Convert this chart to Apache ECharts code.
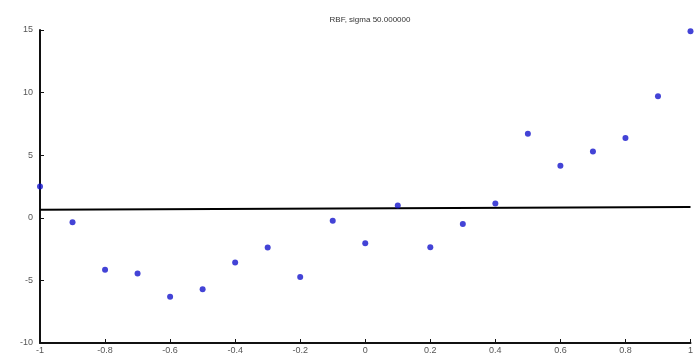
<!DOCTYPE html>
<html>
<head>
<meta charset="utf-8">
<script src="https://cdn.jsdelivr.net/npm/echarts@6/dist/echarts.min.js"></script>
<style>
  html, body { margin: 0; padding: 0; background: #fff; }
  #chart { width: 696px; height: 355px; }
</style>
</head>
<body>
<div id="chart"></div>
<script>
// sample positions and values
const xs = [-1, -0.9, -0.8, -0.7, -0.6, -0.5, -0.4, -0.3, -0.2, -0.1, 0, 0.1, 0.2, 0.3, 0.4, 0.5, 0.6, 0.7, 0.8, 0.9, 1];
const ys = [2.5, -0.35, -4.15, -4.45, -6.3, -5.7, -3.57, -2.37, -4.72, -0.24, -2.03, 0.98, -2.35, -0.5, 1.14, 6.72, 4.16, 5.3, 6.38, 9.7, 14.9];
// fitted line endpoints
const fitX = [-1, 1];
const fitY = [0.64, 0.86];
const titleText = "RBF, sigma 50.000000";

const chart = echarts.init(document.getElementById("chart"));
const axisFont = { fontFamily: "Liberation Sans", fontSize: 9, color: "#555" };

chart.setOption({
  animation: false,
  title: {
    text: titleText,
    left: 365,
    top: 11,
    textAlign: "center",
    textStyle: { fontFamily: "Liberation Sans", fontSize: 8, fontWeight: "normal", color: "#333" },
  },
  grid: { left: 40, right: 5, top: 30, bottom: 12 },
  xAxis: {
    type: "value",
    min: -1,
    max: 1,
    interval: 0.2,
    splitLine: { show: false },
    axisLine: { onZero: false, lineStyle: { color: "#111", width: 2 } },
    axisTick: { inside: true, length: 4, lineStyle: { color: "#111" } },
    axisLabel: { ...axisFont, margin: 3 },
  },
  yAxis: {
    type: "value",
    min: -10,
    max: 15,
    interval: 5,
    splitLine: { show: false },
    axisLine: { show: true, onZero: false, lineStyle: { color: "#111", width: 2 } },
    axisTick: { show: true, inside: true, length: 4, lineStyle: { color: "#111" } },
    axisLabel: { ...axisFont, margin: 7 },
  },
  series: [
    {
      type: "line",
      data: fitX.map((x, i) => [x, fitY[i]]),
      symbol: "none",
      lineStyle: { color: "#000", width: 2 },
      z: 1,
    },
    {
      type: "scatter",
      data: xs.map((x, i) => [x, ys[i]]),
      symbol: "circle",
      symbolSize: 6,
      itemStyle: { color: "#1414cc" },
      z: 2,
    },
  ],
});
</script>
</body>
</html>
